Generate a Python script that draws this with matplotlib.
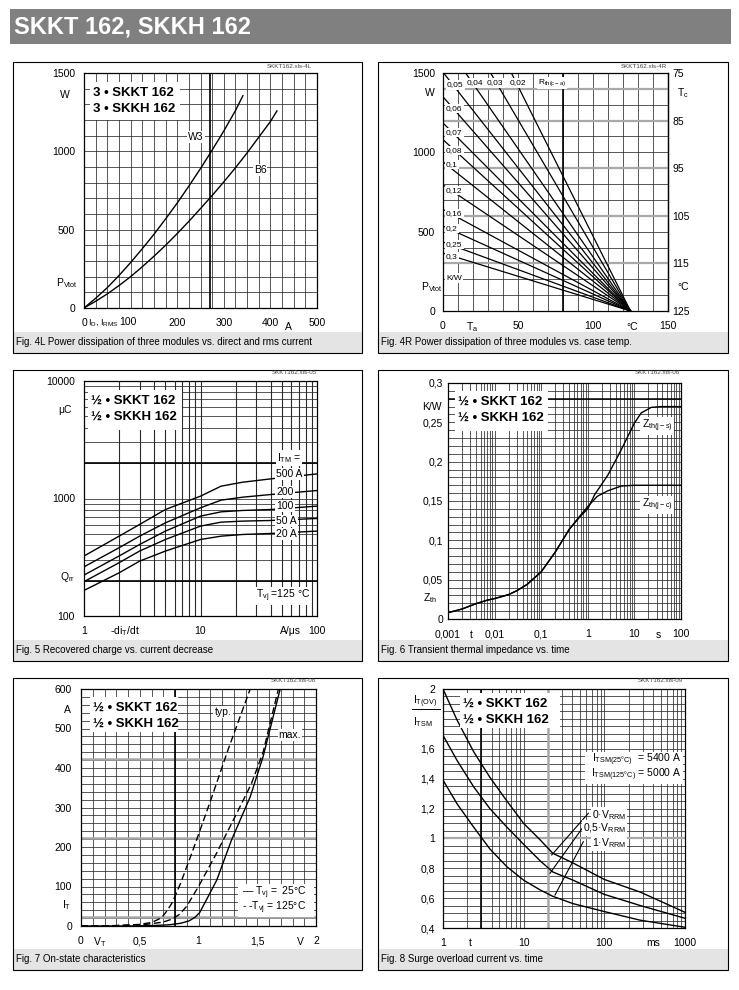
import numpy as np
import matplotlib
matplotlib.use("Agg")
import matplotlib.pyplot as plt
from matplotlib.patches import Rectangle
from matplotlib.lines import Line2D
from matplotlib.ticker import NullLocator, NullFormatter

plt.rcParams['font.family'] = ['Liberation Sans', 'DejaVu Sans']
plt.rcParams['mathtext.fontset'] = 'custom'
plt.rcParams['mathtext.rm'] = 'Liberation Sans'
plt.rcParams['mathtext.it'] = 'Liberation Sans:italic'
plt.rcParams['mathtext.bf'] = 'Liberation Sans:bold'
plt.rcParams['mathtext.default'] = 'rm'

W, H = 739, 990

# Fig. 4L  P_Vtot vs I_D, I_RMS
i_w3 = [0, 25, 50, 75, 100, 125, 150, 175, 200, 225, 250, 275, 300, 325, 341]
p_w3 = [0, 62, 130, 207, 290, 378, 470, 568, 670, 778, 890, 1008, 1130, 1260, 1355]
i_b6 = [0, 25, 50, 75, 100, 125, 150, 175, 200, 225, 250, 275, 300, 325, 350, 375, 400, 414]
p_b6 = [0, 43, 90, 143, 200, 263, 330, 400, 475, 553, 635, 718, 805, 895, 990, 1090, 1190, 1258]

# Fig. 4R  rectas de R_th(c-a): P a Ta = 0, todas terminan en Ta = 125
rth_labels = ['0,02', '0,03', '0,04', '0,05', '0,06', '0,07', '0,08',
              '0,1', '0,12', '0,16', '0,2', '0,25', '0,3']
rth_p0 = [2361, 2010, 1706, 1505, 1350, 1185, 1080, 940, 795, 640, 535, 435, 365]
ta_ends = [0, 125]
tc_ticks = [75, 85, 95, 105, 115, 125]

# Fig. 5  Q_rr vs -di/dt
didt = [1, 2, 3, 5, 10, 15, 23, 40, 100]
qrr_500 = [324, 478, 601, 806, 1047, 1273, 1376, 1469, 1620]
qrr_200 = [262, 381, 478, 621, 833, 968, 1026, 1081, 1169]
qrr_100 = [223, 324, 406, 528, 708, 770, 791, 806, 861]
qrr_50 = [196, 284, 357, 448, 582, 629, 642, 650, 676]
qrr_20 = [165, 233, 293, 357, 448, 478, 494, 504, 528]
itm_labels = ['500 A', '200', '100', '50 A', '20 A']

# Fig. 6  Z_th vs t
t_js = [0.001, 0.002, 0.004, 0.007, 0.01, 0.02, 0.03, 0.05, 0.1, 0.2, 0.4, 0.7,
        1.0, 1.4, 2.7, 5.2, 10, 14, 23, 37, 100]
z_js = [0.008, 0.0127, 0.0195, 0.024, 0.026, 0.031, 0.036, 0.044, 0.060, 0.085, 0.114, 0.131,
        0.140, 0.158, 0.183, 0.215, 0.249, 0.262, 0.269, 0.270, 0.270]
t_jc = [0.001, 0.002, 0.004, 0.007, 0.01, 0.02, 0.03, 0.05, 0.1, 0.2, 0.4, 0.7,
        1.0, 1.6, 2.7, 5.2, 10, 100]
z_jc = [0.008, 0.0127, 0.0195, 0.024, 0.026, 0.031, 0.036, 0.044, 0.060, 0.085, 0.114, 0.132,
        0.143, 0.156, 0.163, 0.169, 0.170, 0.170]

# Fig. 7  I_T vs V_T
v_typ125 = [0, 0.3, 0.5, 0.6, 0.66, 0.7, 0.73, 0.77, 0.8, 0.85, 0.95, 1.1, 1.25, 1.44]
a_typ125 = [0, 1, 4, 9, 17, 26, 38, 56, 75, 110, 190, 315, 445, 600]
v_max125 = [0, 0.3, 0.55, 0.7, 0.78, 0.84, 0.9, 1.0, 1.155, 1.325, 1.45, 1.55, 1.68]
a_max125 = [0, 1, 4, 10, 18, 30, 50, 100, 185, 285, 360, 440, 600]
v_25 = [0, 0.4, 0.6, 0.75, 0.85, 0.92, 0.97, 1.01, 1.06, 1.155, 1.28, 1.44, 1.55, 1.695]
a_25 = [0, 0, 1, 3, 7, 13, 22, 34, 62, 116, 217, 327, 429, 600]

# Fig. 8  I_T(OV)/I_TSM vs t
t_ms = [1, 1.5, 2.4, 3.8, 6.2, 10, 16, 23, 41, 100, 280, 1000]
ov_0v = [2.0, 1.79, 1.58, 1.41, 1.25, 1.10, 0.99, 0.90, 0.835, 0.725, 0.64, 0.505]
ov_05v = [1.69, 1.52, 1.345, 1.20, 1.075, 0.96, 0.85, 0.775, 0.72, 0.625, 0.55, 0.465]
ov_1v = [1.39, 1.23, 1.075, 0.93, 0.81, 0.72, 0.655, 0.612, 0.563, 0.51, 0.452, 0.405]

GRID = '#2a2a2a'
GRIS = '#a8a8a8'

fig = plt.figure(figsize=(W / 100, H / 100), dpi=100)


def txt(x, y, s, size=7.5, ha='center', va='center', bg=False, **kw):
    """Texto en coordenadas de pixel de la pagina."""
    t = fig.text(x / W, 1 - y / H, s, fontsize=size, ha=ha, va=va, **kw)
    if bg:
        t.set_bbox(dict(facecolor='white', edgecolor='none', pad=0.8))
    return t


def caja(x0, y0, x1, y1, fc='white', ec='none', lw=0.0):
    fig.add_artist(Rectangle((x0 / W, 1 - y1 / H), (x1 - x0) / W, (y1 - y0) / H,
                             transform=fig.transFigure, facecolor=fc, edgecolor=ec, lw=lw))


def linea(x0, y0, x1, y1, lw=0.8):
    fig.add_artist(Line2D([x0 / W, x1 / W], [1 - y0 / H, 1 - y1 / H],
                          transform=fig.transFigure, color='k', lw=lw))


def nuevo_ax(x0, y0, x1, y1, logx=False, logy=False):
    ax = fig.add_axes([x0 / W, 1 - y1 / H, (x1 - x0) / W, (y1 - y0) / H])
    if logx:
        ax.set_xscale('log')
    if logy:
        ax.set_yscale('log')
    for s in ax.spines.values():
        s.set_linewidth(0.9)
    ax.tick_params(length=0, labelsize=7.5)
    return ax


def rejilla(ax, xs, ys, lwx=0.55, lwy=0.55):
    for x in xs:
        ax.axvline(x, color=GRID, lw=lwx, zorder=0.5)
    for y in ys:
        ax.axhline(y, color=GRID, lw=lwy, zorder=0.5)


def log_lines(d0, d1):
    return [k * 10.0 ** d for d in range(d0, d1) for k in range(1, 10)][1:]


def sin_minor(ax):
    ax.xaxis.set_minor_locator(NullLocator())
    ax.yaxis.set_minor_locator(NullLocator())
    ax.xaxis.set_minor_formatter(NullFormatter())
    ax.yaxis.set_minor_formatter(NullFormatter())


def titulo_caja(x0, y0, x1, y1, pre):
    caja(x0, y0, x1, y1)
    txt(x0 + 3, y0 + 10.5, pre + ' \u2022 SKKT 162', size=9.5, ha='left', weight='bold')
    txt(x0 + 3, y0 + 27, pre + ' \u2022 SKKH 162', size=9.5, ha='left', weight='bold')


# ---------------- Encabezado y marcos ----------------
caja(10, 9, 731, 44, fc='#808080')
txt(14, 27, 'SKKT 162, SKKH 162', size=17, ha='left', weight='bold', color='white')

paneles = [(13, 362), (378, 728)]
filas = [(62, 353), (370, 661), (678, 970)]
captions = [['Fig. 4L Power dissipation of three modules vs. direct and rms current',
             'Fig. 4R Power dissipation of three modules vs. case temp.'],
            ['Fig. 5 Recovered charge vs. current decrease',
             'Fig. 6 Transient thermal impedance vs. time'],
            ['Fig. 7 On-state characteristics',
             'Fig. 8 Surge overload current vs. time']]
for r, (y0, y1) in enumerate(filas):
    for c, (x0, x1) in enumerate(paneles):
        caja(x0, y1 - 21, x1, y1, fc='#e4e4e4')
        caja(x0, y0, x1, y1, fc='none', ec='black', lw=0.8)
        txt(x0 + 3, y1 - 11, captions[r][c], size=7, ha='left')

# ---------------- Fig. 4L ----------------
ax = nuevo_ax(84, 73, 317, 308)
ax.set_xlim(0, 500)
ax.set_ylim(0, 1500)
rejilla(ax, np.arange(25, 500, 25), np.arange(100, 1500, 100))
ax.axvline(270, color='k', lw=1.2, zorder=0.6)
ax.plot(i_w3, p_w3, color='k', lw=1.0, zorder=2)
ax.plot(i_b6, p_b6, color='k', lw=1.0, zorder=2)
# el "100" va desplazado a la derecha del texto I_D, I_RMS
ax.set_xticks([0, 100, 200, 300, 400, 500], ['0', '', '200', '300', '400', '500'])
ax.set_yticks([0, 500, 1000, 1500], ['0', '500', '1000', '1500'])
ax.tick_params(axis='x', pad=7)
ax.tick_params(axis='y', pad=6.5)
txt(65, 95, 'W')
txt(67, 283, 'P$_{\\rm Vtot}$')
txt(88, 323, 'I$_{\\rm D}$, I$_{\\rm RMS}$', size=6.5, ha='left')
txt(128, 322, '100')
txt(288, 327, 'A')
txt(196, 137, 'W3', bg=True)
txt(260, 170, 'B6', bg=True)
titulo_caja(90, 82, 180, 120, '3')
txt(312, 66, 'SKKT162.xls-4L', size=4.5, ha='right', color='#444444')

# ---------------- Fig. 4R ----------------
ax = nuevo_ax(443, 73, 668, 311)
ax.set_xlim(0, 150)
ax.set_ylim(0, 1500)
rejilla(ax, np.arange(10, 150, 10), np.arange(100, 1500, 100))
for y in [300, 600, 900, 1200, 1400]:
    ax.axhline(y, color=GRIS, lw=1.6, zorder=0.55)
ax.axvline(80, color='k', lw=1.2, zorder=0.6)
for p0 in rth_p0:
    ax.plot(ta_ends, [p0, 0], color='k', lw=0.9, zorder=2)
ax.set_xticks([0, 50, 100, 150], ['0', '50', '100', '150'])
ax.set_yticks([0, 500, 1000, 1500], ['0', '500', '1000', '1500'])
ax.tick_params(axis='x', pad=7)
ax.tick_params(axis='y', pad=5.8)
sec = ax.secondary_yaxis('right', functions=(lambda p: 125 - p / 30.0, lambda t: (125 - t) * 30.0))
sec.set_yticks(tc_ticks, [str(t) for t in tc_ticks])
sec.tick_params(length=0, labelsize=7.5, pad=3)
sec.spines['right'].set_linewidth(0.9)
rth_label_xy = [(510, 83), (487, 83), (467, 83), (447, 85), (446, 108.7), (446, 132.7),
                (446, 150.3), (446, 164.7), (446, 190.3), (446, 213.7), (446, 228.7),
                (446, 244.7), (446, 257)]
for lab, (x, y) in zip(rth_labels, rth_label_xy):
    txt(x, y, lab, size=6, ha='left', bg=True)
txt(538, 83, 'R$_{\\rm th(c-a)}$', size=6, ha='left', bg=True)
txt(446, 278, 'K/W', size=6, ha='left', bg=True)
txt(430, 93, 'W')
txt(432, 287, 'P$_{\\rm Vtot}$')
txt(472, 327, 'T$_{\\rm a}$')
txt(632, 327, '\u00b0C')
txt(683, 93, 'T$_{\\rm c}$')
txt(683, 287, '\u00b0C')
txt(667, 66, 'SKKT162.xls-4R', size=4.5, ha='right', color='#444444')

# ---------------- Fig. 5 ----------------
ax = nuevo_ax(84, 381, 317, 616, logx=True, logy=True)
ax.set_xlim(1, 100)
ax.set_ylim(100, 10000)
rejilla(ax, log_lines(0, 2), log_lines(2, 4), lwx=0.8, lwy=0.55)
ax.axhline(200, color='k', lw=1.2, zorder=0.6)
ax.axhline(2000, color='k', lw=1.2, zorder=0.6)
for q in [qrr_500, qrr_200, qrr_100, qrr_50, qrr_20]:
    ax.plot(didt, q, color='k', lw=1.0, zorder=2)
ax.set_xticks([1, 10, 100], ['1', '10', '100'])
ax.set_yticks([100, 1000, 10000], ['100', '1000', '10000'])
sin_minor(ax)
ax.tick_params(axis='x', pad=7)
ax.tick_params(axis='y', pad=6.5)
itm_label_y = [474, 492, 506, 521, 534]
for lab, y in zip(itm_labels, itm_label_y):
    txt(276, y, lab, ha='left', bg=True)
txt(277, 458, 'I$_{\\rm TM}$ =', ha='left', bg=True)
txt(310, 596, 'T$_{\\rm vj}$ =125 \u00b0C', ha='right', bg=True)
titulo_caja(88, 390, 182, 430, '\u00bd')
txt(65, 410, '\u03bcC')
txt(67, 577, 'Q$_{\\rm rr}$')
txt(125, 631, '-di$_{\\rm T}$/dt')
txt(290, 631, 'A/\u03bcs')
txt(317, 372, 'SKKT162.xls-05', size=4.5, ha='right', color='#444444')

# ---------------- Fig. 6 ----------------
ax = nuevo_ax(448, 383, 681, 619, logx=True)
ax.set_xlim(0.001, 100)
ax.set_ylim(0, 0.3)
rejilla(ax, log_lines(-3, 2), np.arange(0.01, 0.295, 0.01))
ax.axhline(0.28, color='k', lw=1.1, zorder=0.6)
ax.plot(t_js, z_js, color='k', lw=1.0, zorder=2)
ax.plot(t_jc, z_jc, color='k', lw=1.0, zorder=2)
ax.set_xticks([0.001, 0.01, 0.1, 1, 10, 100], ['0,001', '0,01', '0,1', '1', '10', '100'])
ax.set_yticks([0, 0.05, 0.1, 0.15, 0.2, 0.25, 0.3], ['0', '0,05', '0,1', '0,15', '0,2', '0,25', '0,3'])
sin_minor(ax)
ax.tick_params(axis='x', pad=7.5)
ax.tick_params(axis='y', pad=3.6)
txt(657, 426, 'Z$_{\\rm th(j-s)}$', bg=True)
txt(657, 505, 'Z$_{\\rm th(j-c)}$', bg=True)
titulo_caja(455, 391, 548, 431, '\u00bd')
txt(432, 407, 'K/W')
txt(430, 598, 'Z$_{\\rm th}$')
txt(471, 635, 't')
txt(658, 635, 's')
txt(680, 373, 'SKKT162.xls-06', size=4.5, ha='right', color='#444444')

# ---------------- Fig. 7 ----------------
ax = nuevo_ax(81, 689, 316, 926)
ax.set_xlim(0, 2)
ax.set_ylim(0, 600)
rejilla(ax, np.arange(0.1, 2.0, 0.1), np.arange(20, 600, 20))
for y in [23, 223, 423]:
    ax.axhline(y, color=GRIS, lw=1.8, zorder=0.55)
ax.axvline(0.8, color='k', lw=1.2, zorder=0.6)
ax.plot(v_typ125, a_typ125, color='k', lw=1.0, ls=(0, (5, 2.5)), zorder=2)
ax.plot(v_max125, a_max125, color='k', lw=1.0, ls=(0, (5, 2.5)), zorder=2)
ax.plot(v_25, a_25, color='k', lw=1.0, zorder=2)
ax.set_xticks([0, 0.5, 1, 1.5, 2], ['0', '0,5', '1', '1,5', '2'])
ax.set_yticks(np.arange(0, 601, 100), ['0', '100', '200', '300', '400', '500', '600'])
ax.tick_params(axis='x', pad=7.5)
ax.tick_params(axis='y', pad=6.5)
txt(223, 712, 'typ.', bg=True)
txt(290, 735, 'max.', bg=True)
caja(238, 884, 314, 917)
txt(242, 893, '\u2014 T$_{\\rm vj}$ =  25\u00b0C', ha='left')
txt(242, 908, '- -T$_{\\rm vj}$ = 125\u00b0C', ha='left')
titulo_caja(90, 697, 178, 732, '\u00bd')
txt(67, 710, 'A')
txt(67, 905, 'I$_{\\rm T}$')
txt(100, 942, 'V$_{\\rm T}$')
txt(300, 942, 'V')
txt(316, 681, 'SKKT162.xls-08', size=4.5, ha='right', color='#444444')

# ---------------- Fig. 8 ----------------
ax = nuevo_ax(443, 689, 685, 928, logx=True)
ax.set_xlim(1, 1000)
ax.set_ylim(0.4, 2.0)
rejilla(ax, log_lines(0, 3), np.arange(0.45, 1.99, 0.05))
ax.axvline(3, color='k', lw=1.2, zorder=0.6)
ax.axvline(20, color=GRIS, lw=1.8, zorder=0.55)
ax.axhline(1.0, color=GRIS, lw=1.6, zorder=0.55)
for ov in [ov_0v, ov_05v, ov_1v]:
    ax.plot(t_ms, ov, color='k', lw=1.0, zorder=2)
ax.set_xticks([1, 10, 100, 1000], ['1', '10', '100', '1000'])
ax.set_yticks([0.4, 0.6, 0.8, 1.0, 1.2, 1.4, 1.6, 2.0],
              ['0,4', '0,6', '0,8', '1', '1,2', '1,4', '1,6', '2'])
sin_minor(ax)
ax.tick_params(axis='x', pad=7)
ax.tick_params(axis='y', pad=5.8)
linea(588.3, 813.3, 551.7, 855)
linea(583.3, 826.7, 550, 873.3)
linea(583.3, 841.7, 555, 895)
txt(592, 815, '0\u00b7V$_{\\rm RRM}$', ha='left', bg=True)
txt(583, 828, '0,5\u00b7V$_{\\rm RRM}$', ha='left', bg=True)
txt(592, 843, '1\u00b7V$_{\\rm RRM}$', ha='left', bg=True)
caja(585, 752, 683, 784)
txt(681, 760, 'I$_{\\rm TSM(25\u00b0C)}$  = 5400 A', ha='right')
txt(681, 775, 'I$_{\\rm TSM(125\u00b0C)}$ = 5000 A', ha='right')
titulo_caja(460, 693, 560, 728, '\u00bd')
txt(425, 702, 'I$_{\\rm T(OV)}$')
linea(412, 709, 440, 709, lw=0.7)
txt(423, 722, 'I$_{\\rm TSM}$')
txt(470, 943, 't')
txt(653, 943, 'ms')
txt(683, 681, 'SKKT162.xls-09', size=4.5, ha='right', color='#444444')

fig.savefig('out.png', dpi=100)
